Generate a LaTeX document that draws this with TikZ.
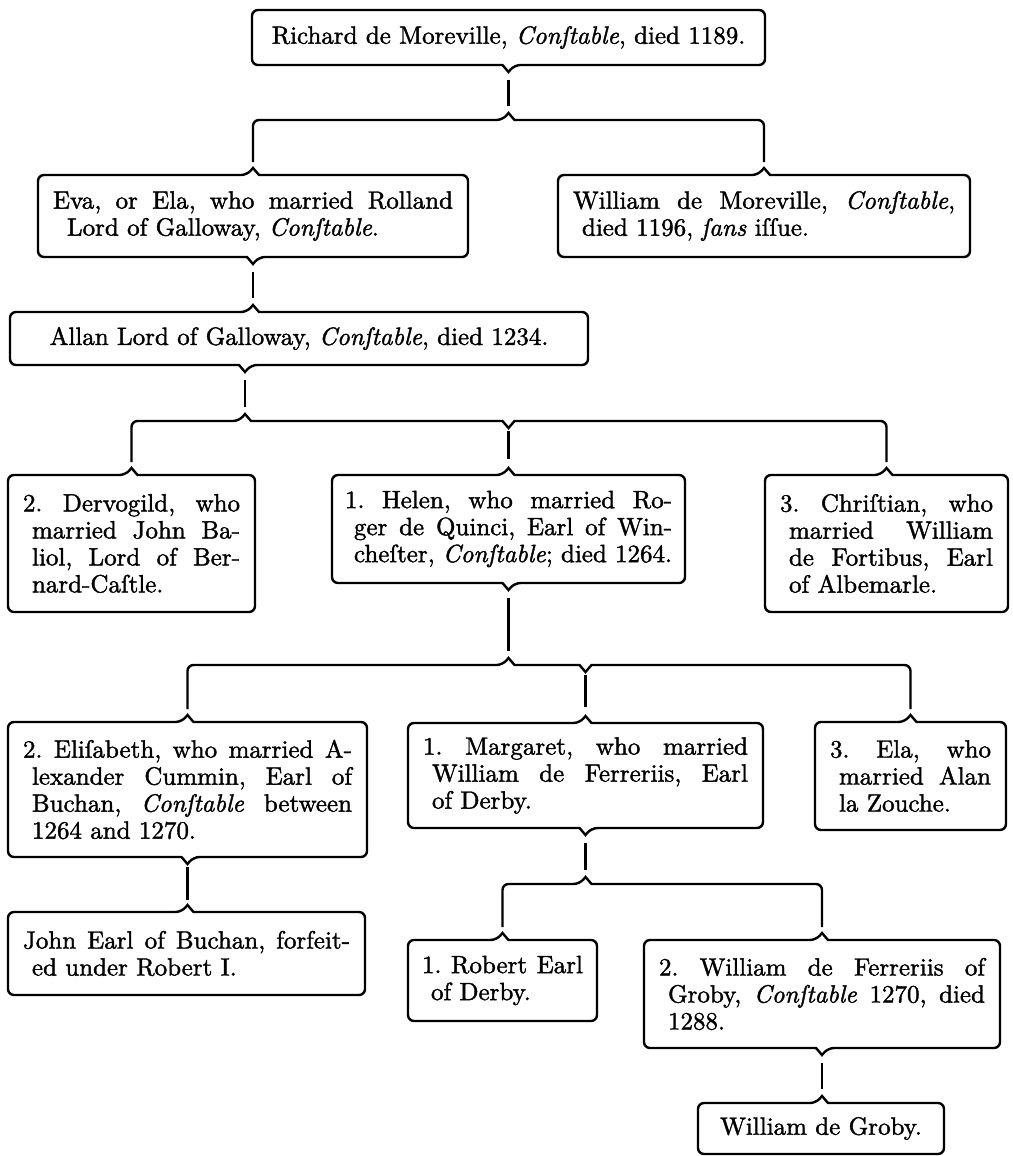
\documentclass[tikz,border=0pt]{standalone}
\usepackage{fontspec}
\setmainfont{lmroman10-regular}[Extension=.otf, ItalicFont=lmroman10-italic, BoldFont=lmroman10-bold, FakeBold=1.5]
\usetikzlibrary{calc}
\frenchspacing
\newlength\hind \setlength\hind{9pt}
\newcommand\firstln[1]{\makebox[\linewidth][s]{#1}\par}
\newcommand\midln[1]{\hspace*{\hind}\makebox[\dimexpr\linewidth-\hind\relax][s]{#1}\par}
\newcommand\lastln[1]{\hspace*{\hind}#1\par}
\newcommand\cst{\textit{Conſtable}}
\tikzset{
  rule/.style={line width=2.4pt, line join=miter},
  conn/.style={rule, shorten <=15pt, shorten >=14pt},
  midconn/.style={rule, shorten <=10pt, shorten >=16pt},
  box/.style={inner sep=0pt, outer sep=0pt, draw=none, align=center, font=\fontsize{25}{27}\selectfont\frenchspacing},
}
% frames
\newcommand\frmTB[3]{\draw[rule] (#1.west) [rounded corners=6pt] -- (#1.north west) -- ([xshift=-6pt]#2) [sharp corners] -- ([yshift=7pt]#2) -- ([xshift=6pt]#2) [rounded corners=6pt] -- (#1.north east) -- (#1.south east) -- ([xshift=6pt]#3) [sharp corners] -- ([yshift=-7pt]#3) -- ([xshift=-6pt]#3) [rounded corners=6pt] -- (#1.south west) -- cycle;}
\newcommand\frmT[2]{\draw[rule] (#1.west) [rounded corners=6pt] -- (#1.north west) -- ([xshift=-6pt]#2) [sharp corners] -- ([yshift=7pt]#2) -- ([xshift=6pt]#2) [rounded corners=6pt] -- (#1.north east) -- (#1.south east) -- (#1.south west) -- cycle;}
\newcommand\frmB[2]{\draw[rule] (#1.west) [rounded corners=6pt] -- (#1.north west) -- (#1.north east) -- (#1.south east) -- ([xshift=6pt]#2) [sharp corners] -- ([yshift=-7pt]#2) -- ([xshift=-6pt]#2) [rounded corners=6pt] -- (#1.south west) -- cycle;}
% buses
\newcommand\busLR[3]{\draw[rule] ([yshift=13pt]#1) [rounded corners=6pt] |- ([xshift=-6pt]#2) [sharp corners] -- ([yshift=7pt]#2) -- ([xshift=6pt]#2) [rounded corners=6pt] -| ([yshift=13pt]#3);}
\newcommand\busLMR[4]{\draw[rule] ([yshift=13pt]#1) [rounded corners=6pt] |- ([xshift=-6pt]#2) [sharp corners] -- ([yshift=7pt]#2) -- ([xshift=6pt]#2) -- ([xshift=-6pt]#3) -- ([yshift=-7pt]#3) -- ([xshift=6pt]#3) [rounded corners=6pt] -| ([yshift=13pt]#4);}
\begin{document}
\begin{tikzpicture}[x=1pt,y=-1pt]
\fill[white] (0,0) rectangle (1012,1156);
\useasboundingbox (0,0) rectangle (1012,1156);

% nodes
\node[box, minimum width=513pt, minimum height=55pt] (ric) at (508.5,37.5) {Richard de Moreville, \cst, died 1189.};
\node[box, minimum width=430pt, minimum height=82pt] (eva) at (253,216) {\parbox{400pt}{\firstln{Eva, or Ela, who married Rolland}\lastln{\hspace*{5pt}Lord of Galloway, \cst.}}};
\node[box, minimum width=412pt, minimum height=82pt] (wil) at (764,216) {\parbox{382pt}{\firstln{William de Moreville, \cst,}\lastln{died 1196, \textit{ſans} iſſue.}}};
\node[box, minimum width=578pt, minimum height=53pt] (all) at (299,338.5) {Allan Lord of Galloway, \cst, died 1234.};
\node[box, minimum width=247pt, minimum height=137pt] (der) at (131.5,543.5) {\parbox{217pt}{\firstln{2. Dervogild, who}\midln{married John Ba-}\midln{liol, Lord of Ber-}\lastln{nard-Caſtle.}}};
\node[box, minimum width=353pt, minimum height=108pt] (hel) at (508.5,529) {\parbox{327pt}{\firstln{1. Helen, who married Ro-}\midln{ger de Quinci, Earl of Win-}\midln{cheſter, \cst; died 1264.}}};
\node[box, minimum width=243pt, minimum height=137pt] (chr) at (886.5,543.5) {\parbox{213pt}{\firstln{3. Chriſtian, who}\midln{married William}\midln{de Fortibus, Earl}\lastln{of Albemarle.}}};
\node[box, minimum width=359pt, minimum height=135pt] (eli) at (187.5,789.5) {\parbox{329pt}{\firstln{2. Eliſabeth, who married A-}\midln{lexander Cummin, Earl of}\midln{Buchan, \cst{} between}\lastln{1264 and 1270.}}};
\node[box, minimum width=355pt, minimum height=105pt] (mar) at (585.5,775.5) {\parbox{325pt}{\firstln{1. Margaret, who married}\midln{William de Ferreriis, Earl}\lastln{of Derby.}}};
\node[box, minimum width=191pt, minimum height=108pt] (ela) at (910.5,776) {\parbox{161pt}{\firstln{3. Ela, who}\midln{married Alan}\lastln{la Zouche.}}};
\node[box, minimum width=357pt, minimum height=83pt] (joh) at (186.5,953.5) {\parbox{327pt}{\firstln{John Earl of Buchan, forfeit-}\lastln{ed under Robert I.}}};
\node[box, minimum width=189pt, minimum height=81pt] (rob) at (502.5,980.5) {\parbox{161pt}{\firstln{1. Robert Earl}\lastln{of Derby.}}};
\node[box, minimum width=356pt, minimum height=108pt] (wdf) at (822,994) {\parbox{326pt}{\firstln{2. William de Ferreriis of}\midln{Groby, \cst{} 1270, died}\lastln{1288.}}};
\node[box, minimum width=246pt, minimum height=51pt] (gro) at (821,1128.5) {William de Groby.};

% notch and bus coordinates
\coordinate (ricB) at (ric.south);
\coordinate (busA) at (ric.south |- 0,120);
\coordinate (evaT) at (eva.north);
\coordinate (evaB) at (eva.south);
\coordinate (wilT) at (wil.north);
\coordinate (allT) at (evaB |- all.north);
\coordinate (allB) at (245,0 |- all.south);
\coordinate (busB) at (allB |- 0,421);
\coordinate (busBm) at (hel.north |- 0,421);
\coordinate (derT) at (der.north);
\coordinate (helT) at (hel.north);
\coordinate (helB) at (hel.south);
\coordinate (chrT) at (chr.north);
\coordinate (busC) at (helB |- 0,665);
\coordinate (busCm) at (mar.north |- 0,665);
\coordinate (eliT) at (eli.north);
\coordinate (eliB) at (eli.south);
\coordinate (marT) at (mar.north);
\coordinate (marB) at (mar.south);
\coordinate (elaT) at (ela.north);
\coordinate (johT) at (eliB |- joh.north);
\coordinate (busD) at (marB |- 0,884);
\coordinate (robT) at (rob.north);
\coordinate (wdfT) at (wdf.north);
\coordinate (wdfB) at (wdf.south);
\coordinate (groT) at (wdfB |- gro.north);

% frames
\frmB{ric}{ricB}
\frmTB{eva}{evaT}{evaB}
\frmT{wil}{wilT}
\frmTB{all}{allT}{allB}
\frmT{der}{derT}
\frmTB{hel}{helT}{helB}
\frmT{chr}{chrT}
\frmTB{eli}{eliT}{eliB}
\frmTB{mar}{marT}{marB}
\frmT{ela}{elaT}
\frmT{joh}{johT}
\frmT{rob}{robT}
\frmTB{wdf}{wdfT}{wdfB}
\frmT{gro}{groT}

% buses
\busLR{evaT}{busA}{wilT}
\busLMR{derT}{busB}{busBm}{chrT}
\busLMR{eliT}{busC}{busCm}{elaT}
\busLR{robT}{busD}{wdfT}

% connectors
\draw[conn] (ricB) -- (busA);
\draw[conn] (evaB) -- (allT);
\draw[conn] (allB) -- (busB);
\draw[midconn] (busBm) -- (helT);
\draw[conn] (helB) -- (busC);
\draw[midconn] (busCm) -- (marT);
\draw[rule, shorten <=10pt, shorten >=12pt] (eliB) -- (johT);
\draw[conn] (marB) -- (busD);
\draw[conn] (wdfB) -- (groT);
\end{tikzpicture}
\end{document}
